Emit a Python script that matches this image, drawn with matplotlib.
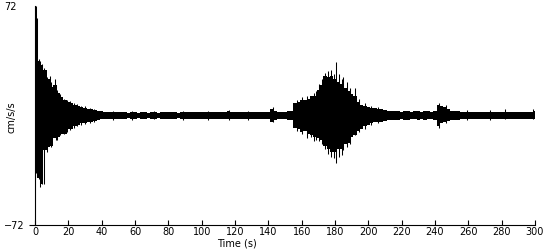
import numpy as np
import matplotlib
matplotlib.use('Agg')
import matplotlib.pyplot as plt

t = np.arange(0, 301, 2)
hi = [60, 36, 33, 30, 24, 19, 20, 15, 12, 10, 9, 8, 7, 6, 5.5, 5, 4.5, 4, 3.5, 3,
      2.8, 2.5, 2.6, 2.2, 2.4, 2.0, 2.3, 2.1, 1.9, 2.2,
      2.0, 1.8, 2.3, 2.0, 1.7, 2.1, 2.4, 1.9, 2.0, 2.2,
      2.1, 2.5, 2.0, 1.8, 2.2, 2.6, 2.1, 2.3, 2.0, 2.4,
      2.2, 2.5, 2.0, 2.3, 2.6, 2.2, 2.0, 2.4, 2.8, 2.3,
      2.0, 2.2, 2.4, 2.1, 2.0, 2.3, 2.2, 2.0, 2.4, 2.6,
      2.5, 4.5, 3.0, 2.6, 2.5,
      2.5, 2.8, 3.2, 8, 9, 10, 10, 11, 13, 13,
      17, 20, 26, 25, 26, 24, 22, 21, 18, 16,
      14, 13, 9, 7, 6, 5.5, 5, 5, 4.5, 4,
      3.5, 3, 3.2, 2.8, 3, 2.6, 2.8, 3, 2.5, 2.7,
      2.8, 2.6, 3, 2.7, 2.5, 3,
      7, 6, 5.5, 4,
      3, 2.8, 3, 2.6, 2.5, 2.4, 2.6, 2.3, 2.2, 2.5,
      2.4, 2.6, 2.2, 2.0, 2.1, 2.6, 2.4, 2.2, 2.4, 2.5,
      2.3, 2.6, 2.4, 2.5, 2.6, 3]
lo = [-38, -41, -45, -23, -21, -20, -15, -14, -12, -12, -9, -9, -7, -6, -5, -5, -4.5, -4, -3.5, -3,
      -2.6, -2.4, -2.5, -2.1, -2.3, -2.0, -2.2, -2.0, -1.9, -2.1,
      -2.0, -1.9, -2.2, -2.0, -1.8, -2.0, -2.3, -1.9, -2.1, -2.0,
      -2.0, -2.3, -2.1, -1.9, -2.0, -2.4, -2.0, -2.2, -2.0, -2.3,
      -2.1, -2.4, -2.0, -2.2, -2.5, -2.1, -2.0, -2.3, -2.6, -2.2,
      -2.0, -2.1, -2.3, -2.0, -2.0, -2.2, -2.1, -2.0, -2.3, -2.5,
      -2.4, -4.4, -2.8, -2.5, -2.4,
      -2.4, -2.7, -3.0, -8, -9, -11, -10, -12, -13, -14,
      -15, -16, -20, -22, -24, -24, -22, -22, -19, -18,
      -14, -13, -10, -9, -7, -6, -5, -4.5, -4, -4,
      -3.5, -3, -3, -2.8, -3, -2.6, -2.7, -2.9, -2.5, -2.6,
      -2.7, -2.5, -2.8, -2.6, -2.5, -2.8,
      -7, -5, -4.5, -3.5,
      -3, -2.7, -2.8, -2.5, -2.4, -2.3, -2.5, -2.2, -2.2, -2.4,
      -2.3, -2.4, -2.1, -2.0, -2.1, -2.4, -2.3, -2.1, -2.2, -2.3,
      -2.2, -2.4, -2.3, -2.4, -2.5, -2.6]

# single large swings on top of the envelope
spike_t = [0.7, 1.3, 2.2, 3.2, 4.2, 5.5, 7.2, 8.8, 9.6, 11.8, 12.6, 13.5, 15.2,
           17.4, 19.2, 21.0, 23.4, 25.2, 27.6, 30.2, 32.8, 35.4,
           46.5, 58.0, 71.5, 88.5, 104.0, 116.5, 128.0, 143.0,
           157.4, 160.2, 163.0, 165.4, 167.1, 168.5, 170.3, 172.1, 173.8,
           175.5, 177.5, 179.2, 180.6, 182.5, 184.2, 185.0, 187.3, 189.1,
           191.8, 194.6, 197.8, 201.5, 206.0, 242.6, 246.5, 259.0, 273.0,
           282.0, 299.0]
spike_hi = [72, 64, 37, 36, 34, 31, 25, 26, 22, 24, 20, 17, 14,
            11, 10, 9.5, 8, 7.5, 6.5, 6, 5, 4.5,
            3.2, 3, 2.8, 3, 3.2, 3.4, 3, 5.5,
            10, 12, 13, 12, 15, 16, 21, 24, 28,
            29, 30, 27, 35, 27, 24, 25, 22, 18,
            18, 11, 8, 6.5, 5.5, 8, 7, 3.5, 3.5,
            4, 4.5]
spike_lo = [-38, -40, -42, -47, -45, -45, -24, -19, -21, -14, -16, -16, -13,
            -12, -11, -9.5, -8.5, -7, -6, -5.5, -5, -4,
            -3, -2.8, -2.6, -2.8, -3, -3.2, -2.8, -4.5,
            -10, -12, -15, -14, -17, -16, -17, -19, -22,
            -25, -27, -28, -31, -27, -26, -23, -21, -19,
            -13, -11, -9, -6.5, -5, -8, -5, -3, -3,
            -2.5, -2.6]

xticks = list(range(0, 301, 20))

fig = plt.figure(figsize=(5.5, 2.5), dpi=100)
ax = fig.add_axes([35 / 550, 25 / 250, 500 / 550, 219 / 250])

ax.fill_between(t, lo, hi, step='mid', color='black', lw=0, antialiased=False)
ax.vlines(spike_t, spike_lo, spike_hi, color='black', lw=0.75)

ax.set_xlim(0, 300)
ax.set_ylim(-72, 72)
ax.spines['top'].set_visible(False)
ax.spines['right'].set_visible(False)
for s in ('left', 'bottom'):
    ax.spines[s].set_linewidth(0.8)

ax.set_xticks(xticks)
ax.set_yticks([-72, 72])
ax.tick_params(axis='x', direction='in', length=3.5, width=0.8, pad=1.5, labelsize=7)
ax.tick_params(axis='y', direction='out', length=4, width=0.8, pad=18, labelsize=7)
ax.yaxis.get_major_ticks()[1].tick1line.set_visible(False)
for lab in ax.get_yticklabels():
    lab.set_horizontalalignment('left')

fig.text(12 / 550, 1 - 117 / 250, 'cm/s/s', rotation=90, ha='center', va='center', fontsize=7)
fig.text(237 / 550, 1 - 244 / 250, 'Time (s)', ha='center', va='center', fontsize=7)

plt.savefig('out.png', dpi=100)
